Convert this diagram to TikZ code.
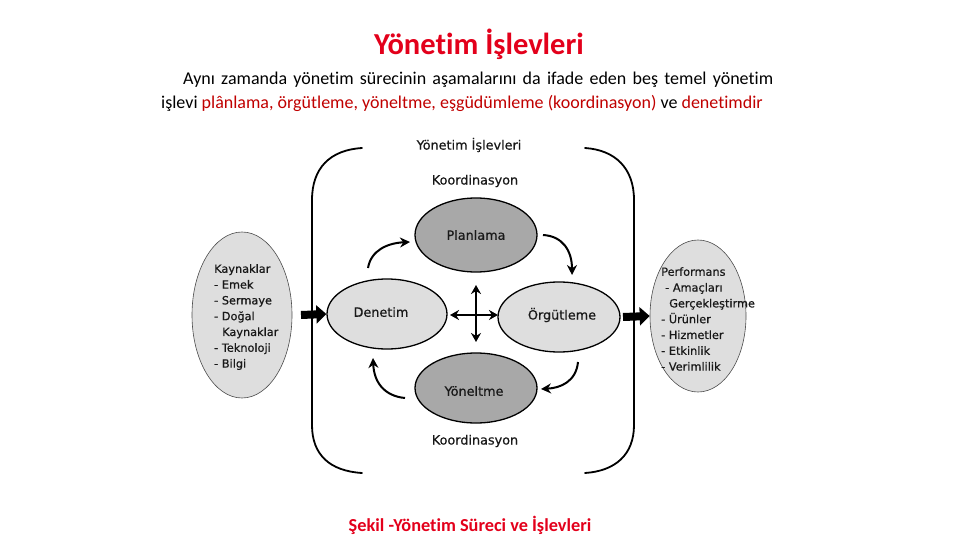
\documentclass[tikz,border=0pt]{standalone}
\usepackage{fontspec}
\setmainfont{Carlito}[Ligatures=NoCommon]
\newfontfamily\diag{DejaVu Sans}[FakeBold=0.6]
\usetikzlibrary{shapes.geometric,arrows.meta}
\definecolor{titlered}{HTML}{E3001B}
\definecolor{darkred}{HTML}{C00000}
\definecolor{fdark}{HTML}{A8A8A8}
\definecolor{flight}{HTML}{DEDEDE}
\begin{document}
\begin{tikzpicture}[x=1pt,y=-1pt,
  fn/.style={ellipse,draw=black,line width=1.3pt,inner sep=0pt},
  dtext/.style={font=\diag\fontsize{12.8}{14}\selectfont,text=black!90},
  ltext/.style={font=\diag\fontsize{11.3}{15.8}\selectfont,align=left,inner sep=0pt,text=black!90},
  brk/.style={line width=1.8pt,line cap=round},
  carrow/.style={line width=2pt,-{Stealth[length=10pt,width=10pt]}},
  blk/.style={line width=8pt,-{Triangle[length=10pt,width=18pt]}}]
\useasboundingbox (0,0) rectangle (960,540);
% title and paragraph
\node[text=titlered,font=\bfseries\fontsize{30.5}{32}\selectfont] (title) at (479,44) {Yönetim İşlevleri};
\node[anchor=west,font=\fontsize{18}{20}\selectfont,inner sep=0pt] (p1) at (183,80) {\makebox[590pt][s]{Aynı zamanda yönetim sürecinin aşamalarını da ifade eden beş temel yönetim}};
\node[anchor=west,font=\fontsize{18}{20}\selectfont,inner sep=0pt] (p2) at (161,103) {işlevi \textcolor{darkred}{plânlama, örgütleme, yöneltme, eşgüdümleme (koordinasyon)} ve \textcolor{darkred}{denetimdir}};
% brackets
\coordinate (lt) at (362,148);
\coordinate (lb) at (362,473);
\coordinate (rt) at (585,148);
\coordinate (rb) at (585,473);
\draw[brk] (lt) .. controls (330,150) and (312,168) .. (312,200) -- (312,425) .. controls (312,455) and (330,471) .. (lb);
\draw[brk] (rt) .. controls (615,150) and (634,168) .. (634,200) -- (634,425) .. controls (634,455) and (615,471) .. (rb);
% labels
\node[dtext] (yis) at (469,145) {Yönetim İşlevleri};
\node[dtext] (k1) at (475,181) {Koordinasyon};
\node[dtext] (k2) at (475,441) {Koordinasyon};
% function ellipses
\node[fn,fill=fdark,minimum width=122pt,minimum height=74pt,dtext] (plan) at (476,235) {Planlama};
\node[fn,fill=flight,minimum width=120pt,minimum height=70pt] (den) at (387,314) {};
\node[dtext] at (381,312) {Denetim};
\node[fn,fill=flight,minimum width=122pt,minimum height=70pt] (org) at (559,317) {};
\node[dtext] at (562,315) {Örgütleme};
\node[fn,fill=fdark,minimum width=122pt,minimum height=70pt] (yon) at (476,388) {};
\node[dtext] at (474,391) {Yöneltme};
% resource / performance ellipses
\node[ellipse,draw=black!70,line width=0.6pt,fill=flight,minimum width=100pt,minimum height=166pt] (kay) at (242,315) {};
\node[ltext,anchor=north west] (kayt) at (214,264) {Kaynaklar\\- Emek\\- Sermaye\\- Doğal\\\hspace*{8pt}Kaynaklar\\- Teknoloji\\- Bilgi};
\node[ellipse,draw=black!70,line width=0.6pt,fill=flight,minimum width=96pt,minimum height=152pt] (perf) at (698,316) {};
\node[ltext,anchor=north west] (perft) at (661,267) {Performans\\\hspace*{4pt}- Amaçları\\\hspace*{8pt}Gerçekleştirme\\- Ürünler\\- Hizmetler\\- Etkinlik\\- Verimlilik};
% block arrows
\coordinate (ba1) at (301,315);
\coordinate (ba2) at (623,317);
\draw[blk] (ba1) -- (den.west);
\draw[blk] (ba2) -- (perf.west);
% cross arrows
\coordinate (cl) at (450,315);
\coordinate (cr) at (498,315);
\coordinate (ct) at (476,285);
\coordinate (cb) at (476,342);
\draw[line width=1.9pt,{Stealth[length=9pt,width=10pt]}-{Stealth[length=9pt,width=10pt]}] (cl) -- (cr);
\draw[line width=1.9pt,{Stealth[length=9pt,width=10pt]}-{Stealth[length=9pt,width=10pt]}] (ct) -- (cb);
% curved arrows
\coordinate (a1s) at (368,268);
\coordinate (a1e) at (410,242);
\draw[carrow] (a1s) .. controls (371,250) and (388,243) .. (a1e);
\coordinate (a2s) at (543,235);
\coordinate (a2e) at (572,275);
\draw[carrow] (a2s) .. controls (562,236) and (572,250) .. (a2e);
\coordinate (a3s) at (578,362);
\coordinate (a3e) at (541,389);
\draw[carrow] (a3s) .. controls (576,382) and (560,388) .. (a3e);
\coordinate (a4s) at (405,398);
\coordinate (a4e) at (373,358);
\draw[carrow] (a4s) .. controls (384,396) and (374,382) .. (a4e);
% caption
\node[text=titlered,font=\bfseries\fontsize{18.3}{20}\selectfont] (cap) at (470,525) {Şekil -Yönetim Süreci ve İşlevleri};
\end{tikzpicture}
\end{document}
